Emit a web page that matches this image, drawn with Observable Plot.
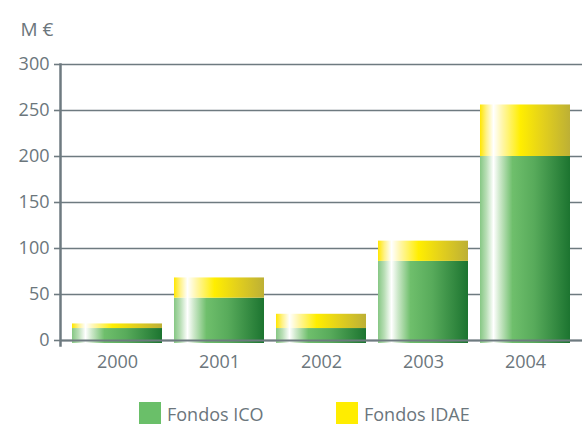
<!DOCTYPE html>
<html>
<head>
<meta charset="utf-8">
<script src="https://cdn.jsdelivr.net/npm/d3@7"></script>
<script src="https://cdn.jsdelivr.net/npm/@observablehq/plot@0.6"></script>
<style>
  html, body { margin: 0; padding: 0; background: #fff; }
  body { width: 582px; height: 425px; overflow: hidden; position: relative; font-family: "Open Sans", sans-serif; color: #6b767c; }
  #chart { position: absolute; left: 0; top: 0; }
  .lg { position: absolute; top: 402px; height: 22px; display: flex; align-items: flex-start; font-size: 18px; line-height: 1; }
  .sw { width: 22px; height: 22px; margin-right: 6px; }
  .lt { margin-top: 3px; }
</style>
</head>
<body>
<div id="chart"></div>
<div id="legend"></div>
<script>
const years = ["2000", "2001", "2002", "2003", "2004"];
const seriesNames = ["Fondos ICO", "Fondos IDAE"];
const fondosICO = [13, 46, 13, 86, 200];
const fondosIDAE = [5, 22, 15.5, 22, 56];
const yTicks = [0, 50, 100, 150, 200, 250, 300];
const unitLabel = "M €";
const legendColors = ["#6abf69", "#ffed00"];

// stacked segments built from the arrays above
const icoRows = years.map((y, i) => ({year: y, series: seriesNames[0], y1: 0, y2: fondosICO[i]}));
const idaeRows = years.map((y, i) => ({year: y, series: seriesNames[1], y1: fondosICO[i], y2: fondosICO[i] + fondosIDAE[i]}));

const NS = "http://www.w3.org/2000/svg";
function gradient(id, stops) {
  const g = document.createElementNS(NS, "linearGradient");
  g.setAttribute("id", id);
  g.setAttribute("x1", "0"); g.setAttribute("x2", "1");
  g.setAttribute("y1", "0"); g.setAttribute("y2", "0");
  for (const [o, c] of stops) {
    const s = document.createElementNS(NS, "stop");
    s.setAttribute("offset", o);
    s.setAttribute("stop-color", c);
    g.appendChild(s);
  }
  return g;
}
const defsMark = () => {
  const d = document.createElementNS(NS, "defs");
  d.appendChild(gradient("gIco", [
    [0, "#86c784"], [0.07, "#b8deb5"], [0.15, "#ffffff"], [0.22, "#cde8ca"],
    [0.36, "#6fbf6c"], [0.6, "#58ab5b"], [1, "#1c7430"]
  ]));
  d.appendChild(gradient("gIdae", [
    [0, "#ffe600"], [0.07, "#fff287"], [0.15, "#ffffff"], [0.25, "#fff6a8"],
    [0.45, "#ffee00"], [0.7, "#e3d01c"], [1, "#bdb035"]
  ]));
  return d;
};

const gray = "#6e7a80";
const chart = Plot.plot({
  width: 582,
  height: 375,
  marginLeft: 60,
  marginRight: 0,
  marginTop: 64,
  marginBottom: 35,
  style: {fontFamily: "'Open Sans', sans-serif", fontSize: "18px", color: "#6b767c", background: "#fff"},
  x: {domain: years, paddingInner: 0.12, paddingOuter: 0.1, label: null},
  y: {domain: [0, 300], ticks: yTicks, label: null},
  color: {domain: seriesNames, range: ["url(#gIco)", "url(#gIdae)"]},
  marks: [
    defsMark,
    Plot.gridY(yTicks, {stroke: gray, strokeOpacity: 1, strokeWidth: 1.6}),
    Plot.barY(icoRows, {x: "year", y1: "y1", y2: "y2", fill: "series", insetBottom: -3}),
    Plot.barY(idaeRows, {x: "year", y1: "y1", y2: "y2", fill: "series"}),
    Plot.axisY(yTicks, {tickSize: 6, tickPadding: 5, stroke: gray, strokeWidth: 1.6, fill: "#6b767c", fontSize: 18, label: null}),
    Plot.axisX({tickSize: 0, tickPadding: 15, fill: "#6b767c", fontSize: 18, label: null}),
    Plot.frame({anchor: "left", stroke: gray, strokeWidth: 2.5, insetBottom: -5}),
    Plot.ruleY([0], {stroke: gray, strokeWidth: 2.2}),
    Plot.text([unitLabel], {frameAnchor: "top-left", dx: -40, dy: -42, textAnchor: "start", fontSize: 19, fill: "#6b767c"})
  ]
});
document.getElementById("chart").appendChild(chart);

const legend = document.getElementById("legend");
const lefts = [139, 336];
seriesNames.forEach((name, i) => {
  const item = document.createElement("div");
  item.className = "lg";
  item.style.left = lefts[i] + "px";
  const sw = document.createElement("div");
  sw.className = "sw";
  sw.style.background = legendColors[i];
  const t = document.createElement("span");
  t.className = "lt";
  t.textContent = name;
  item.appendChild(sw);
  item.appendChild(t);
  legend.appendChild(item);
});
</script>
</body>
</html>
